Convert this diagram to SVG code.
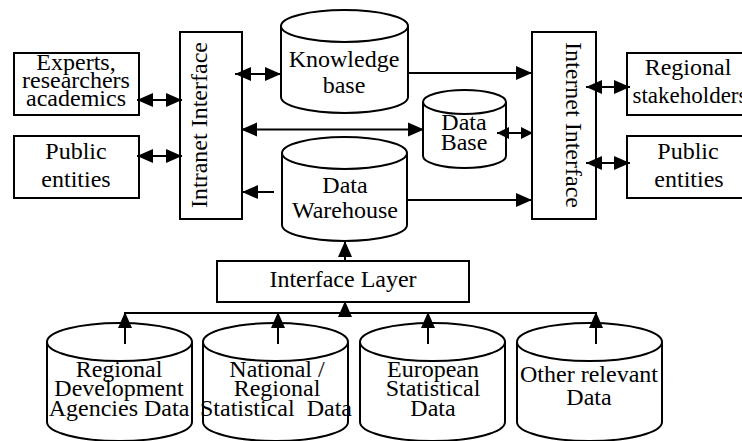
<svg xmlns="http://www.w3.org/2000/svg" width="742" height="441" viewBox="0 0 742 441">
<style>
  .box { fill: #fff; stroke: #000; stroke-width: 2; }
  .cyl { fill: #fff; stroke: #000; stroke-width: 2; }
  .t { font-size: 24px; fill: #000; text-anchor: middle; }
  .s { font-size: 23px; }
  .c { fill: none; stroke: #000; stroke-width: 2; }
  .e { marker-end: url(#ah); }
  .d { marker-start: url(#ah); marker-end: url(#ah); }
  .ds { marker-start: url(#as); marker-end: url(#as); }
</style>
<defs>
  <marker id="ah" markerUnits="userSpaceOnUse" markerWidth="17" markerHeight="15" refX="16" refY="7" orient="auto-start-reverse" overflow="visible">
    <path d="M0,0 L16,7 L0,14 Z" fill="#000"/>
  </marker>
  <marker id="as" markerUnits="userSpaceOnUse" markerWidth="13" markerHeight="13" refX="12" refY="6" orient="auto-start-reverse" overflow="visible">
    <path d="M0,0 L12,6 L0,12 Z" fill="#000"/>
  </marker>
</defs>
<rect width="742" height="441" fill="#fff"/>

<g font-family="Liberation Serif, Times New Roman, DejaVu Serif, serif">
<g id="experts">
  <rect class="box" x="14" y="53" width="125" height="62"/>
  <text class="t" x="76" y="70">Experts,</text>
  <text class="t" x="76" y="88">researchers</text>
  <text class="t" x="76" y="106">academics</text>
</g>
<g id="public-left">
  <rect class="box" x="14" y="136" width="125" height="62"/>
  <text class="t" x="76" y="159">Public</text>
  <text class="t" x="76" y="187">entities</text>
</g>
<g id="intranet">
  <rect class="box" x="180" y="32" width="62" height="187"/>
  <text class="t" transform="translate(207,125) rotate(-90)">Intranet Interface</text>
</g>
<g id="knowledge-base">
  <path class="cyl" d="M281,26 V97 A63.5,16 0 0 0 408,97 V26"/>
  <ellipse class="cyl" cx="344.5" cy="26" rx="63.5" ry="16"/>
  <text class="t" x="344" y="67">Knowledge</text>
  <text class="t" x="344" y="93">base</text>
</g>
<g id="data-base">
  <path class="cyl" d="M423,102 V156 A41.5,12 0 0 0 506,156 V102"/>
  <ellipse class="cyl" cx="464.5" cy="102" rx="41.5" ry="12"/>
  <text class="t" x="464" y="130">Data</text>
  <text class="t" x="464" y="150">Base</text>
</g>
<g id="data-warehouse">
  <path class="cyl" d="M282,153 V225 A62.5,16 0 0 0 407,225 V153"/>
  <ellipse class="cyl" cx="344.5" cy="153" rx="62.5" ry="16"/>
  <text class="t" x="345" y="193">Data</text>
  <text class="t" x="345" y="218">Warehouse</text>
</g>
<g id="internet">
  <rect class="box" x="532" y="32" width="64" height="187"/>
  <text class="t" transform="translate(566,125) rotate(90)">Internet Interface</text>
</g>
<g id="regional-stakeholders">
  <rect class="box" x="627" y="53" width="125" height="62"/>
  <text class="t" x="688" y="75">Regional</text>
  <text class="t s" x="690" y="103">stakeholders</text>
</g>
<g id="public-right">
  <rect class="box" x="627" y="136" width="125" height="62"/>
  <text class="t" x="688" y="159">Public</text>
  <text class="t" x="689" y="187">entities</text>
</g>
<g id="interface-layer">
  <rect class="box" x="217" y="261" width="252" height="41"/>
  <text class="t" x="343" y="287">Interface Layer</text>
</g>
<g id="regional-agencies">
  <path class="cyl" d="M47,342 V422 A72.5,19 0 0 0 192,422 V342"/>
  <ellipse class="cyl" cx="119.5" cy="342" rx="72.5" ry="19"/>
  <text class="t" x="119" y="377">Regional</text>
  <text class="t" x="119" y="396">Development</text>
  <text class="t" x="119" y="416">Agencies Data</text>
</g>
<g id="national-regional">
  <path class="cyl" d="M203,342 V422 A72.5,19 0 0 0 348,422 V342"/>
  <ellipse class="cyl" cx="275.5" cy="342" rx="72.5" ry="19"/>
  <text class="t" x="277" y="377">National /</text>
  <text class="t" x="277" y="396">Regional</text>
  <text class="t" x="276" y="416" xml:space="preserve">Statistical  Data</text>
</g>
<g id="european">
  <path class="cyl" d="M360,342 V422 A72.5,19 0 0 0 505,422 V342"/>
  <ellipse class="cyl" cx="432.5" cy="342" rx="72.5" ry="19"/>
  <text class="t" x="433" y="377">European</text>
  <text class="t" x="433" y="396">Statistical</text>
  <text class="t" x="433" y="416">Data</text>
</g>
<g id="other">
  <path class="cyl" d="M517,342 V422 A72.5,19 0 0 0 662,422 V342"/>
  <ellipse class="cyl" cx="589.5" cy="342" rx="72.5" ry="19"/>
  <text class="t" x="589" y="382">Other relevant</text>
  <text class="t" x="589" y="405">Data</text>
</g>
</g>

<g id="connectors">
  <path class="c d" d="M137,100 H182"/>
  <path class="c d" d="M137,156 H182"/>
  <path class="c d" d="M235,74 H281"/>
  <path class="c d" d="M241,129.5 H424"/>
  <path class="c e" d="M274,192 H242"/>
  <path class="c e" d="M408,73 H532"/>
  <path class="c ds" d="M497,133 H533"/>
  <path class="c e" d="M407,200 H532"/>
  <path class="c d" d="M586,87 H630"/>
  <path class="c d" d="M586,163 H630"/>
  <path class="c e" d="M345,261 V241"/>
  <path class="c" d="M125,313 H596"/>
  <path class="c e" d="M345,314 V301"/>
  <path class="c e" d="M125,344 V312"/>
  <path class="c e" d="M278,344 V312"/>
  <path class="c e" d="M428,344 V312"/>
  <path class="c e" d="M596,344 V312"/>
</g>
</svg>
